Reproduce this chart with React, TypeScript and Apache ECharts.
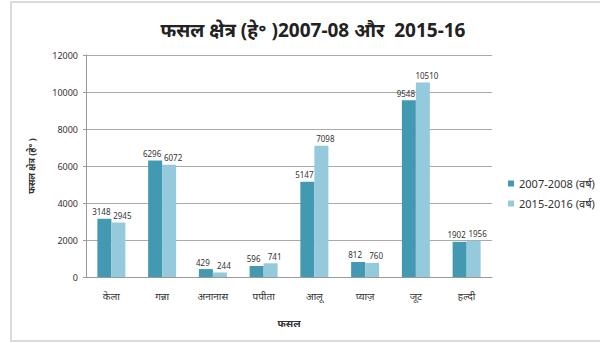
import React, { useEffect, useRef } from "react";
import * as echarts from "echarts";

const categories = ["केला", "गन्ना", "अनानास", "पपीता", "आलू", "प्याज़", "जूट", "हल्दी"];
const series2007 = [3148, 6296, 429, 596, 5147, 812, 9548, 1902];
const series2015 = [2945, 6072, 244, 741, 7098, 760, 10510, 1956];
const seriesNames = ["2007-2008 (वर्ष)", "2015-2016 (वर्ष)"];
const titleText = "फसल क्षेत्र (हे॰ )2007-08 और  2015-16";
const yAxisName = "फसल क्षेत्र (हे॰ )";
const xAxisName = "फसल";

export default function App() {
  const ref = useRef<HTMLDivElement>(null);
  useEffect(() => {
    document.body.style.margin = "0";
    const chart = echarts.init(ref.current!, null, { renderer: "svg" });
    const font = "'Noto Sans', 'Noto Sans Devanagari', sans-serif";
    const labelBase = {
      show: true,
      position: "top" as const,
      distance: 3,
      fontSize: 8,
      color: "#333",
      fontFamily: font,
    };
    chart.setOption({
      animation: false,
      backgroundColor: "#fff",
      textStyle: { fontFamily: font },
      title: {
        text: titleText,
        left: 308,
        textAlign: "center",
        top: 15,
        textStyle: { fontSize: 19, fontWeight: "bold", color: "#222", fontFamily: font },
      },
      graphic: [
        {
          type: "rect",
          shape: { x: 11, y: 2, width: 600, height: 339 },
          style: { fill: "none", stroke: "#cfcfcf", lineWidth: 1.5 },
          silent: true,
        },
      ],
      legend: {
        orient: "vertical",
        left: 503,
        top: 173,
        itemWidth: 6,
        itemHeight: 6,
        itemGap: 9,
        icon: "rect",
        textStyle: { fontSize: 11, color: "#333", fontFamily: font },
        data: seriesNames,
      },
      grid: { left: 86, right: 108, top: 55, bottom: 66 },
      xAxis: {
        type: "category",
        data: categories,
        name: xAxisName,
        nameLocation: "middle",
        nameGap: 41,
        nameTextStyle: { fontSize: 10, fontWeight: "bold", color: "#333" },
        axisLine: { lineStyle: { color: "#999" } },
        axisTick: { show: false },
        axisLabel: { fontSize: 10, color: "#333", margin: 14 },
      },
      yAxis: {
        type: "value",
        min: 0,
        max: 12000,
        interval: 2000,
        name: yAxisName,
        nameLocation: "middle",
        nameRotate: 90,
        nameGap: 50,
        nameTextStyle: { fontSize: 9, fontWeight: "bold", color: "#333" },
        axisLine: { show: true, lineStyle: { color: "#999" } },
        axisTick: { show: true, length: 3, lineStyle: { color: "#999" } },
        axisLabel: { fontSize: 9, color: "#333", margin: 8, formatter: (v: number) => String(v) },
        splitLine: { lineStyle: { color: "#aaa" } },
      },
      series: [
        {
          name: seriesNames[0],
          type: "bar",
          data: series2007,
          barWidth: 14,
          barGap: "0%",
          itemStyle: { color: "#4499b2" },
          label: { ...labelBase, offset: [-3, 0] },
        },
        {
          name: seriesNames[1],
          type: "bar",
          data: series2015,
          barWidth: 14,
          barGap: "0%",
          itemStyle: { color: "#95c9dc" },
          label: { ...labelBase, offset: [4, 0] },
        },
      ],
    });
    return () => chart.dispose();
  }, []);
  return <div ref={ref} style={{ width: 600, height: 343, position: "fixed", left: 0, top: 0 }} />;
}
